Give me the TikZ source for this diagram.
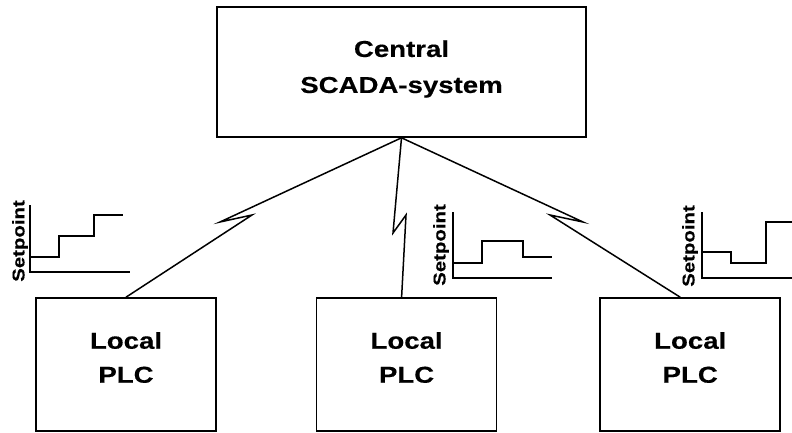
\documentclass[tikz,border=0pt]{standalone}
\usepackage{fontspec}
\setmainfont{Liberation Sans}[FakeStretch=1.2,BoldFeatures={FakeBold=0.4}]
\usetikzlibrary{positioning}

\tikzset{
  box/.style={draw, line width=1.6pt, minimum width=180pt},
  boxtext/.style={font=\fontsize{23}{34}\selectfont\bfseries, align=center},
  link/.style={line width=1.5pt},
  curve/.style={line width=1.5pt},
  spname/.style={font=\fontsize{17}{17}\selectfont\bfseries, rotate=90}
}

\begin{document}
\begin{tikzpicture}[x=1pt,y=-1pt]
\useasboundingbox (0,0) rectangle (792,433);
% central and local boxes
\node[box, minimum width=369pt, minimum height=130pt] (scada) at (401.5,72) {};
\node[boxtext] (scadatxt) at ([yshift=3pt]scada.center) {Central\\[2pt]SCADA-system};
\node[box, minimum height=133pt] (plc1) at (126,364.5) {};
\node[box, minimum height=133pt, right=99pt of plc1] (plc2) {};
\node[box, minimum height=133pt, right=102pt of plc2] (plc3) {};
\foreach \i in {1,2,3}
  \node[boxtext] (plctxt\i) at ([yshift=7pt]plc\i.center) {Local\\PLC};

% radio links
\coordinate (zl1) at (220,222); \coordinate (zl2) at (252,215);
\coordinate (zm1) at (393,233); \coordinate (zm2) at (406,215);
\coordinate (zr1) at (583,222); \coordinate (zr2) at (550,215);
\draw[link] (scada.south) -- (zl1) -- (zl2) -- (plc1.north);
\draw[link] (scada.south) -- (zm1) -- (zm2) -- ([xshift=-5pt]plc2.north);
\draw[link] (scada.south) -- (zr1) -- (zr2) -- ([xshift=-10pt]plc3.north);

% setpoint curves
\draw[curve] (30,205) -- (30,272) -- (130,272);
\draw[curve] (30,257) -- (59,257) -- (59,236) -- (94,236) -- (94,215) -- (123,215);
\node[spname] (sp1) at (20,241) {Setpoint};
\draw[curve] (453,212) -- (453,278) -- (552,278);
\draw[curve] (453,263) -- (482,263) -- (482,241) -- (523,241) -- (523,257) -- (552,257);
\node[spname] (sp2) at (441,245) {Setpoint};
\draw[curve] (702,212) -- (702,278) -- (792,278);
\draw[curve] (702,252) -- (731,252) -- (731,263) -- (766,263) -- (766,222) -- (792,222);
\node[spname] (sp3) at (690,246) {Setpoint};
\end{tikzpicture}
\end{document}
